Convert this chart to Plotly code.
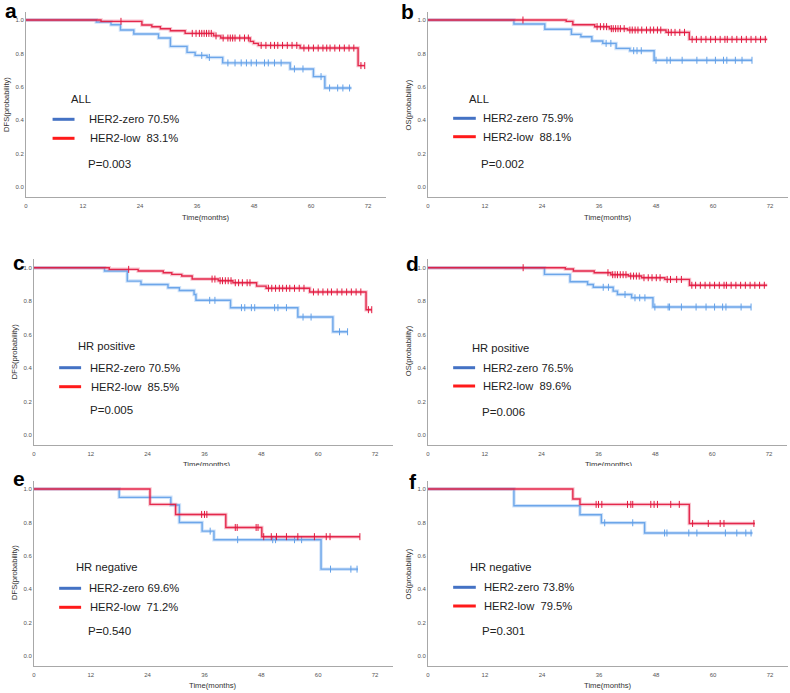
import plotly.graph_objects as go

W, H = 790, 693

# ---------------- data ----------------
# Panel a: DFS, ALL
A_ZERO_T = [14.8, 17.9, 19.9, 22.7, 27.9, 30.4, 33.9, 35.6, 38.1, 41.4, 55.6, 60.5, 62.9]
A_ZERO_S = [0.988, 0.972, 0.940, 0.916, 0.892, 0.842, 0.806, 0.788, 0.776, 0.743, 0.707, 0.661, 0.593]
A_ZERO_END = 68.5
A_ZERO_CENS = [37.0, 38.6, 42.5, 44.0, 45.3, 46.4, 47.4, 48.5, 50.2, 51.0, 52.3, 53.7,
               56.5, 58.3, 62.1, 63.9, 65.6, 66.7, 68.1]
A_LOW_T = [15.8, 24.4, 26.5, 28.3, 30.4, 33.5, 39.5, 41.0, 47.2, 47.9, 48.9, 57.7, 69.9]
A_LOW_S = [0.992, 0.970, 0.960, 0.948, 0.936, 0.920, 0.905, 0.892, 0.872, 0.860, 0.848, 0.832, 0.727]
A_LOW_END = 71.3
A_LOW_CENS = [20.0, 35.0, 35.8, 36.5, 37.0, 37.5, 38.0, 38.5, 39.0, 40.0, 41.5, 42.5, 43.0,
              43.5, 44.0, 45.0, 46.0, 46.8, 49.5, 50.5, 51.5, 52.3, 53.0, 54.0, 55.0, 56.0,
              57.0, 58.5, 59.5, 60.5, 61.5, 62.5, 63.3, 64.0, 65.0, 66.0, 67.0, 68.0, 69.0,
              70.5, 71.3]

# Panel b: OS, ALL
B_ZERO_T = [18.1, 24.6, 30.2, 32.2, 34.5, 36.8, 39.6, 42.5, 47.6]
B_ZERO_S = [0.976, 0.945, 0.914, 0.900, 0.874, 0.860, 0.830, 0.816, 0.759]
B_ZERO_END = 68.2
B_ZERO_CENS = [37.5, 38.5, 43.3, 44.0, 44.9, 48.0, 50.3, 51.0, 53.5, 56.6, 58.7, 60.5,
               62.2, 62.9, 64.7, 66.1, 68.2]
B_LOW_T = [29.1, 30.5, 35.1, 38.2, 42.0, 50.1, 55.0]
B_LOW_S = [0.992, 0.972, 0.960, 0.948, 0.940, 0.926, 0.884]
B_LOW_END = 71.4
B_LOW_CENS = [20.0, 35.6, 36.3, 37.0, 37.6, 38.6, 39.0, 39.5, 40.0, 40.5, 41.3, 42.5, 43.0,
              43.6, 44.2, 45.0, 46.0, 46.8, 47.5, 48.3, 49.0, 50.6, 51.2, 52.0, 53.0, 54.0,
              55.6, 56.5, 57.5, 58.5, 59.5, 60.5, 61.5, 62.5, 63.0, 64.0, 65.0, 66.0, 67.0,
              68.0, 69.0, 70.0, 71.0]

# Panel c: DFS, HR positive
C_ZERO_T = [14.9, 19.7, 22.6, 28.3, 30.7, 33.8, 34.2, 41.5, 55.7, 63.1]
C_ZERO_S = [0.980, 0.920, 0.900, 0.880, 0.864, 0.840, 0.805, 0.761, 0.705, 0.617]
C_ZERO_END = 66.2
C_ZERO_CENS = [37.1, 38.2, 43.8, 44.5, 45.9, 46.6, 50.8, 51.5, 53.3, 56.8, 58.5, 64.5, 66.2]
C_LOW_T = [15.9, 22.0, 27.3, 29.1, 31.2, 33.4, 38.9, 42.0, 47.0, 49.0, 58.2, 70.1]
C_LOW_S = [0.990, 0.980, 0.970, 0.960, 0.950, 0.932, 0.922, 0.910, 0.890, 0.877, 0.855, 0.749]
C_LOW_END = 71.3
C_LOW_CENS = [20.0, 37.6, 38.2, 39.3, 39.8, 40.4, 41.0, 41.6, 42.5, 43.2, 44.0, 45.0, 45.6,
              49.5, 50.2, 51.0, 51.8, 52.5, 53.3, 54.0, 55.0, 56.0, 57.0, 59.0, 60.0, 61.0,
              62.0, 62.8, 64.0, 65.0, 66.0, 67.0, 68.0, 69.0, 70.6, 71.3]

# Panel d: OS, HR positive
D_ZERO_T = [24.6, 30.0, 33.7, 34.9, 39.1, 40.0, 43.0, 47.5]
D_ZERO_S = [0.960, 0.916, 0.900, 0.883, 0.860, 0.840, 0.820, 0.765]
D_ZERO_END = 68.2
D_ZERO_CENS = [37.0, 38.1, 41.6, 43.7, 44.7, 45.8, 47.9, 50.7, 51.0, 53.5, 56.6, 58.7,
               60.5, 62.2, 62.9, 66.1, 68.2]
D_LOW_T = [29.0, 30.7, 35.1, 38.6, 42.3, 45.1, 50.0, 55.2]
D_LOW_S = [0.992, 0.980, 0.970, 0.958, 0.950, 0.940, 0.930, 0.895]
D_LOW_END = 71.6
D_LOW_CENS = [20.1, 38.0, 39.0, 39.5, 40.0, 40.6, 41.2, 41.8, 42.8, 43.4, 44.0, 44.6, 45.6,
              46.5, 47.3, 48.2, 49.0, 50.5, 51.2, 52.5, 53.5, 55.7, 56.5, 57.5, 58.5, 59.5,
              60.5, 61.5, 62.5, 63.0, 64.0, 65.0, 66.0, 67.0, 68.0, 69.0, 70.0, 71.0]

# Panel e: DFS, HR negative
E_ZERO_T = [18.0, 28.9, 30.7, 35.5, 38.0, 60.6]
E_ZERO_S = [0.950, 0.904, 0.800, 0.748, 0.697, 0.521]
E_ZERO_END = 68.4
E_ZERO_CENS = [37.2, 43.0, 50.4, 51.0, 55.0, 56.5, 62.6, 66.9, 68.2]
E_LOW_T = [24.5, 29.9, 40.5, 48.1]
E_LOW_S = [0.908, 0.848, 0.770, 0.715]
E_LOW_END = 68.8
E_LOW_CENS = [35.4, 36.0, 36.5, 42.5, 42.9, 46.9, 47.3, 48.5, 50.1, 51.2, 53.3, 55.7,
              59.2, 61.7, 62.5, 68.8]

# Panel f: OS, HR negative
F_ZERO_T = [18.1, 32.0, 36.5, 45.6]
F_ZERO_S = [0.900, 0.846, 0.798, 0.737]
F_ZERO_END = 68.3
F_ZERO_CENS = [37.2, 43.1, 49.8, 50.3, 54.9, 56.6, 62.6, 65.0, 66.9, 68.0]
F_LOW_T = [30.5, 32.0, 55.0]
F_LOW_S = [0.940, 0.908, 0.794]
F_LOW_END = 68.8
F_LOW_CENS = [35.4, 35.9, 36.6, 42.0, 42.7, 43.1, 46.9, 47.6, 48.3, 51.1, 52.9, 55.7,
              59.0, 61.5, 62.3, 68.6]

PANEL_LETTERS = ["a", "b", "c", "d", "e", "f"]
Y_TITLES = ["DFS(probability)", "OS(probability)", "DFS(probability)",
            "OS(probability)", "DFS(probability)", "OS(probability)"]
GROUP_TITLES = ["ALL", "ALL", "HR positive", "HR positive", "HR negative", "HR negative"]
ZERO_LABELS = ["HER2-zero 70.5%", "HER2-zero 75.9%", "HER2-zero 70.5%",
               "HER2-zero 76.5%", "HER2-zero 69.6%", "HER2-zero 73.8%"]
LOW_LABELS = ["HER2-low\u00a0 83.1%", "HER2-low\u00a0 88.1%", "HER2-low\u00a0 85.5%",
              "HER2-low\u00a0 89.6%", "HER2-low\u00a0 71.2%", "HER2-low\u00a0 79.5%"]
P_LABELS = ["P=0.003", "P=0.002", "P=0.005", "P=0.006", "P=0.540", "P=0.301"]
X_TICKS = [0, 12, 24, 36, 48, 60, 72]
Y_TICKS = [0.0, 0.2, 0.4, 0.6, 0.8, 1.0]

CURVES = [
    (A_ZERO_T, A_ZERO_S, A_ZERO_END, A_ZERO_CENS, A_LOW_T, A_LOW_S, A_LOW_END, A_LOW_CENS),
    (B_ZERO_T, B_ZERO_S, B_ZERO_END, B_ZERO_CENS, B_LOW_T, B_LOW_S, B_LOW_END, B_LOW_CENS),
    (C_ZERO_T, C_ZERO_S, C_ZERO_END, C_ZERO_CENS, C_LOW_T, C_LOW_S, C_LOW_END, C_LOW_CENS),
    (D_ZERO_T, D_ZERO_S, D_ZERO_END, D_ZERO_CENS, D_LOW_T, D_LOW_S, D_LOW_END, D_LOW_CENS),
    (E_ZERO_T, E_ZERO_S, E_ZERO_END, E_ZERO_CENS, E_LOW_T, E_LOW_S, E_LOW_END, E_LOW_CENS),
    (F_ZERO_T, F_ZERO_S, F_ZERO_END, F_ZERO_CENS, F_LOW_T, F_LOW_S, F_LOW_END, F_LOW_CENS),
]

# ---------------- layout geometry (pixels) ----------------
# x pixel of t=0, pixels per month, y pixel of 1.0, y pixel of 0.0
GEOM = [
    (24, 4.764, 20.0, 187.0),
    (427, 4.764, 20.0, 187.0),
    (32, 4.75, 267.7, 435.0),
    (427, 4.75, 267.7, 435.0),
    (32, 4.75, 489.0, 656.3),
    (427, 4.764, 489.0, 656.3),
]
XMAX = 75.8
YMIN, YMAX = -0.058, 1.05

# text placement (pixels)
LETTER_POS = [(9, 11), (406.5, 12), (16.7, 262.5), (411.5, 263.5), (16.7, 479), (412, 481)]
YTITLE_POS = [(5, 104), (408.5, 105), (12.5, 351.7), (407.5, 350.8), (12.5, 572.5), (407.5, 574)]
XTITLE_POS = [(205, 217), (608, 217), None, None, (212, 685.5), (608, 685.5)]
GROUP_POS = [(67, 99), (465.7, 99.3), (74, 345.7), (469, 347.7), (72, 567.3), (467, 567.3)]
LEG_LINE_X = [(50.7, 72.7), (452.3, 475), (57.3, 79.3), (452.3, 474.3), (57.3, 79.3), (452.3, 475)]
LEG_Y = [(119.3, 138.3), (118.3, 136.7), (367.7, 386.7), (367.7, 386.0), (588.3, 607.3), (587.3, 606.0)]
LEG_TEXT_X = [(85.3, 86.3), (480.3, 480.3), (86.3, 87.3), (480.3, 480.3), (85.3, 86.3), (481.3, 481.3)]
P_POS = [(84, 164), (478, 164.3), (86.3, 410), (479, 411.7), (84, 630.7), (479, 630.7)]

BLUE = "rgb(98,160,232)"
BLUE_HALO = "rgba(120,175,240,0.35)"
RED = "rgb(226,24,62)"
RED_HALO = "rgba(235,90,120,0.35)"
LEG_BLUE = "#4472C4"
LEG_RED = "#FF1A1A"
FONT = "Arial, Liberation Sans, sans-serif"


def px(x):
    return x / W


def py(y):
    return 1 - y / H


def surv_at(times, surv, tc):
    v = 1.0
    for ti, si in zip(times, surv):
        if tc >= ti:
            v = si
    return v


fig = go.Figure()
annotations = []
shapes = []

for i, (geom, curves) in enumerate(zip(GEOM, CURVES)):
    x0, ppm, y1, y0 = geom
    spy = y0 - y1
    xr = x0 + XMAX * ppm
    ybot = y0 - YMIN * spy
    ytop = y1 - (YMAX - 1) * spy
    n = i + 1
    xa = "xaxis" if n == 1 else f"xaxis{n}"
    ya = "yaxis" if n == 1 else f"yaxis{n}"
    xref = "x" if n == 1 else f"x{n}"
    yref = "y" if n == 1 else f"y{n}"
    fig.layout[xa] = dict(domain=[px(x0), px(xr)], range=[0, XMAX], anchor=yref,
                          showline=True, linecolor="#a8a8a8", linewidth=1,
                          showgrid=False, zeroline=False, tickvals=X_TICKS,
                          ticks="outside", ticklen=3, tickcolor="rgba(0,0,0,0)",
                          tickfont=dict(size=6, color="#555", family=FONT))
    fig.layout[ya] = dict(domain=[py(ybot), py(ytop)], range=[YMIN, YMAX], anchor=xref,
                          showline=True, linecolor="#a8a8a8", linewidth=1,
                          showgrid=False, zeroline=False, tickvals=Y_TICKS,
                          tickformat=".1f", ticks="",
                          tickfont=dict(size=6, color="#555", family=FONT))

    zt, zs, zend, zc, lt, ls, lend, lc = curves
    for t, s, end, cens, col, halo in [(zt, zs, zend, zc, BLUE, BLUE_HALO),
                                       (lt, ls, lend, lc, RED, RED_HALO)]:
        xs = [0] + list(t) + [end]
        ys = [1.0] + list(s) + [s[-1]]
        fig.add_trace(go.Scatter(x=xs, y=ys, mode="lines", line_shape="hv",
                                 line=dict(color=halo, width=3.5), xaxis=xref, yaxis=yref,
                                 hoverinfo="skip", showlegend=False))
        fig.add_trace(go.Scatter(x=xs, y=ys, mode="lines", line_shape="hv",
                                 line=dict(color=col, width=1.4), opacity=0.9,
                                 xaxis=xref, yaxis=yref, showlegend=False))
        fig.add_trace(go.Scatter(x=cens, y=[surv_at(t, s, c) for c in cens], mode="markers",
                                 marker=dict(symbol="line-ns", size=5,
                                             line=dict(width=1, color=col)),
                                 xaxis=xref, yaxis=yref, showlegend=False))

    # panel letter
    lx, ly = LETTER_POS[i]
    annotations.append(dict(text=f"<b>{PANEL_LETTERS[i]}</b>", x=px(lx), y=py(ly),
                            xref="paper", yref="paper", showarrow=False,
                            xanchor="center", yanchor="middle",
                            font=dict(size=21, color="black", family=FONT)))
    # y title
    tx, ty = YTITLE_POS[i]
    annotations.append(dict(text=Y_TITLES[i], x=px(tx), y=py(ty), xref="paper", yref="paper",
                            showarrow=False, textangle=-90, xanchor="center", yanchor="middle",
                            font=dict(size=7.6, color="#333", family=FONT)))
    # x title
    if XTITLE_POS[i] is not None:
        tx, ty = XTITLE_POS[i]
        annotations.append(dict(text="Time(months)", x=px(tx), y=py(ty), xref="paper",
                                yref="paper", showarrow=False, xanchor="center",
                                yanchor="middle",
                                font=dict(size=7.7, color="#333", family=FONT)))
    # legend block
    gx, gy = GROUP_POS[i]
    annotations.append(dict(text=GROUP_TITLES[i], x=px(gx), y=py(gy), xref="paper",
                            yref="paper", showarrow=False, xanchor="left", yanchor="middle",
                            font=dict(size=11.2, color="#222", family=FONT)))
    lxa, lxb = LEG_LINE_X[i]
    yb, yr = LEG_Y[i]
    shapes.append(dict(type="line", xref="paper", yref="paper", x0=px(lxa), x1=px(lxb),
                       y0=py(yb), y1=py(yb), line=dict(color=LEG_BLUE, width=3)))
    shapes.append(dict(type="line", xref="paper", yref="paper", x0=px(lxa), x1=px(lxb),
                       y0=py(yr), y1=py(yr), line=dict(color=LEG_RED, width=3)))
    tbx, trx = LEG_TEXT_X[i]
    annotations.append(dict(text=ZERO_LABELS[i], x=px(tbx), y=py(yb), xref="paper",
                            yref="paper", showarrow=False, xanchor="left", yanchor="middle",
                            font=dict(size=11.2, color="#222", family=FONT)))
    annotations.append(dict(text=LOW_LABELS[i], x=px(trx), y=py(yr), xref="paper",
                            yref="paper", showarrow=False, xanchor="left", yanchor="middle",
                            font=dict(size=11.2, color="#222", family=FONT)))
    ppx, ppy = P_POS[i]
    annotations.append(dict(text=P_LABELS[i], x=px(ppx), y=py(ppy), xref="paper",
                            yref="paper", showarrow=False, xanchor="left", yanchor="middle",
                            font=dict(size=11.5, color="#222", family=FONT)))

# clipped x titles of panels c and d (cut by the lower row)
fig.layout["xaxis7"] = dict(domain=[0, 1], range=[0, W], visible=False, anchor="y7")
fig.layout["yaxis7"] = dict(domain=[py(466), py(445)], range=[466, 445], visible=False,
                            anchor="x7")
fig.add_trace(go.Scatter(x=[205, 608], y=[465, 465], mode="text",
                         text=["Time(months)", "Time(months)"], cliponaxis=True,
                         textfont=dict(size=7.7, color="#333", family=FONT),
                         xaxis="x7", yaxis="y7", showlegend=False, hoverinfo="skip"))

fig.update_layout(width=W, height=H, margin=dict(l=0, r=0, t=0, b=0),
                  paper_bgcolor="white", plot_bgcolor="white",
                  annotations=annotations, shapes=shapes, showlegend=False)

fig.write_html("out.html", config={"displayModeBar": False},
               post_script="document.body.style.margin='0';"
                           "document.body.style.overflow='hidden';")
